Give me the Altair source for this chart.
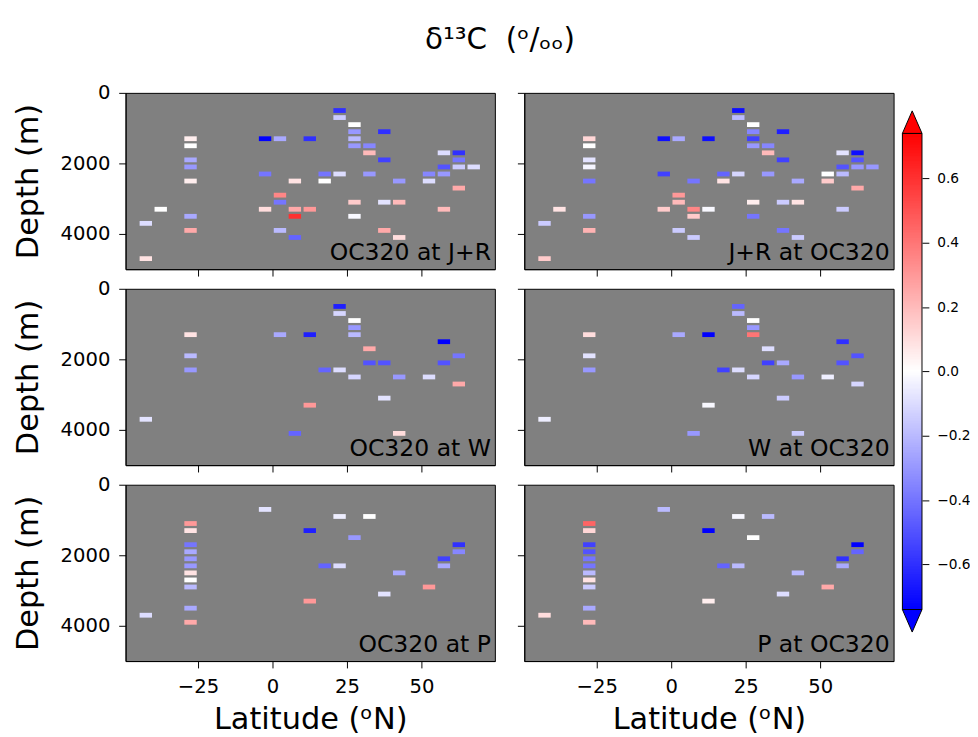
import altair as alt
import pandas as pd

FONT = "DejaVu Sans"
VMAX = 0.74

# ---------------- data (latitude in degN, depth in m, delta13C in permil) ----------------
# Panel A: OC320 at J+R
LAT_A = [22.5, 22.5, 27.5, 27.5, 37.5, -27.5, -2.5, 2.5, 12.5, 27.5, -27.5, 27.5, 32.5, 32.5,
         57.5, 62.5, -27.5, 37.5, 62.5, -27.5, 57.5, 62.5, 67.5, -2.5, 17.5, 22.5, 32.5, 52.5,
         57.5, -27.5, 7.5, 17.5, 42.5, 52.5, 62.5, 2.5, 2.5, 27.5, 37.5, 42.5, -37.5, -2.5, 7.5,
         12.5, 57.5, -27.5, 7.5, 27.5, -42.5, -27.5, 2.5, 37.5, 7.5, 42.5, -42.5]
DEP_A = [500, 700, 900, 1100, 1100, 1300, 1300, 1300, 1300, 1300, 1500, 1500, 1500, 1700,
         1700, 1700, 1900, 1900, 1900, 2100, 2100, 2100, 2100, 2300, 2300, 2300, 2300, 2300,
         2300, 2500, 2500, 2500, 2500, 2500, 2700, 2900, 3100, 3100, 3100, 3100, 3300, 3300, 3300,
         3300, 3300, 3500, 3500, 3500, 3700, 3900, 3900, 3900, 4100, 4100, 4700]
VAL_A = [-0.6, -0.15, 0.0, -0.3, -0.6, 0.05, -0.75, -0.25, -0.6, -0.2, 0.0, -0.3, -0.35, 0.2,
         -0.1, -0.6, -0.25, -0.55, -0.4, -0.3, -0.5, -0.15, -0.1, -0.4, -0.4, -0.1, -0.3, -0.35,
         -0.3, 0.05, 0.08, 0.0, -0.3, -0.1, 0.25, 0.35, -0.4, 0.15, -0.08, 0.2, 0.0, 0.1, 0.25,
         0.3, 0.2, -0.25, 0.6, -0.02, -0.1, 0.25, -0.2, 0.25, -0.45, 0.1, 0.08]

# Panel B: J+R at OC320
LAT_B = [22.5, 22.5, 27.5, 27.5, 37.5, -27.5, -2.5, 2.5, 12.5, 27.5, -27.5, 27.5, 32.5, 32.5,
         57.5, 62.5, -27.5, 37.5, 62.5, -27.5, 57.5, 62.5, 67.5, -2.5, 17.5, 22.5, 32.5, 52.5,
         57.5, -27.5, 7.5, 17.5, 42.5, 52.5, 62.5, 2.5, 2.5, 27.5, 37.5, 42.5, -37.5, -2.5, 7.5,
         12.5, 57.5, -27.5, 7.5, 27.5, -42.5, -27.5, 2.5, 37.5, 7.5, 42.5, -42.5]
DEP_B = DEP_A
VAL_B = [-0.7, -0.2, 0.0, -0.35, -0.65, 0.12, -0.7, -0.25, -0.7, -0.55, 0.0, -0.3, -0.35, 0.2,
         -0.08, -0.7, -0.08, -0.55, -0.5, -0.03, -0.5, -0.3, -0.3, -0.55, -0.45, -0.12, -0.3, 0.0,
         -0.2, -0.4, -0.4, 0.08, -0.25, 0.15, 0.25, 0.3, 0.2, 0.05, -0.15, 0.08, 0.08, 0.15, 0.35,
         -0.02, -0.15, -0.3, 0.15, -0.4, -0.15, 0.22, -0.15, -0.4, -0.15, -0.15, 0.15]

# Panel C: OC320 at W
LAT_C = [22.5, 22.5, 27.5, 27.5, -27.5, 2.5, 12.5, 27.5, 57.5, 32.5, -27.5, 62.5, 32.5, 37.5,
         57.5, -27.5, 17.5, 22.5, 27.5, 42.5, 52.5, 62.5, 37.5, 12.5, -42.5, 7.5, 42.5]
DEP_C = [500, 700, 900, 1100, 1300, 1300, 1300, 1300, 1500, 1700, 1900, 1900, 2100, 2100,
         2100, 2300, 2300, 2300, 2500, 2500, 2500, 2700, 3100, 3300, 3700, 4100, 4100]
VAL_C = [-0.65, -0.12, 0.0, -0.3, 0.08, -0.25, -0.65, -0.2, -0.75, 0.25, -0.2, -0.4, -0.5, -0.5,
         -0.5, -0.3, -0.45, -0.1, -0.12, -0.3, -0.1, 0.25, -0.08, 0.3, -0.08, -0.45, 0.1]

# Panel D: W at OC320
LAT_D = LAT_C
DEP_D = DEP_C
VAL_D = [-0.45, -0.2, 0.0, -0.3, 0.1, -0.25, -0.75, 0.4, -0.6, -0.1, -0.08, -0.5, -0.55, -0.25,
         -0.5, -0.3, -0.55, -0.1, -0.12, -0.3, -0.05, -0.12, -0.15, -0.02, -0.05, -0.3, -0.15]

# Panel E: OC320 at P
LAT_E = [-2.5, 22.5, 32.5, -27.5, -27.5, 12.5, 27.5, -27.5, 62.5, -27.5, 62.5, -27.5, 57.5,
         -27.5, 17.5, 22.5, 57.5, -27.5, 42.5, -27.5, -27.5, 52.5, 37.5, 12.5, -27.5, -42.5, -27.5]
DEP_E = [700, 900, 900, 1100, 1300, 1300, 1500, 1700, 1700, 1900, 1900, 2100, 2100,
         2300, 2300, 2300, 2300, 2500, 2500, 2700, 2900, 2900, 3100, 3300, 3500, 3700, 3900]
VAL_E = [-0.08, -0.05, 0.0, 0.3, 0.08, -0.65, -0.3, -0.4, -0.6, -0.25, -0.35, -0.3, -0.55,
         -0.3, -0.45, -0.1, -0.25, 0.08, -0.25, 0.0, -0.2, 0.3, -0.08, 0.3, -0.25, -0.1, 0.25]

# Panel F: P at OC320
LAT_F = LAT_E
DEP_F = DEP_E
VAL_F = [-0.2, -0.02, -0.2, 0.45, 0.12, -0.75, 0.0, -0.55, -0.75, -0.5, -0.45, -0.4, -0.6,
         -0.4, -0.45, -0.2, -0.25, -0.2, -0.2, 0.08, -0.15, 0.25, -0.1, 0.05, -0.25, 0.1, 0.2]

NAMES = ["OC320 at J+R", "J+R at OC320", "OC320 at W", "W at OC320", "OC320 at P", "P at OC320"]
PANELS = [(LAT_A, DEP_A, VAL_A), (LAT_B, DEP_B, VAL_B), (LAT_C, DEP_C, VAL_C),
          (LAT_D, DEP_D, VAL_D), (LAT_E, DEP_E, VAL_E), (LAT_F, DEP_F, VAL_F)]

X_TICKS = [-25, 0, 25, 50]
Y_TICKS = [0, 2000, 4000]
CB_TICKS = [-0.6, -0.4, -0.2, 0.0, 0.2, 0.4, 0.6]

# ---------------- layout / style ----------------
W, H = 377, 180
TICK = 7
HALF_W, HALF_H = 2.08, 68
X_DOMAIN = [-49.3, 74.6]
Y_DOMAIN = [0, 5000]

color_scale = alt.Scale(domain=[-VMAX, 0, VMAX], range=["#0000ff", "#ffffff", "#ff0000"],
                        interpolate="rgb", clamp=True)


def axis_opts(show, title, title_pad):
    opts = dict(grid=False, tickSize=TICK, tickColor="black", domainColor="black",
                labelFontSize=20, labelColor="black", labels=show,
                titleFontSize=31, titleFontWeight="normal", titleColor="black")
    if show:
        opts.update(title=title, labelPadding=9, titlePadding=title_pad)
    else:
        opts.update(title="", labelPadding=0, titlePadding=0)
    return opts


def make_panel(name, lat, dep, val, bottom, left):
    df = pd.DataFrame({"lat": lat, "depth": dep, "d13c": val})
    xa = axis_opts(bottom, "Latitude (ᵒN)", 9)
    ya = axis_opts(left, "Depth (m)", 16)
    rects = alt.Chart(df).transform_calculate(
        x1=f"datum.lat - {HALF_W}", x2=f"datum.lat + {HALF_W}",
        y1=f"datum.depth - {HALF_H}", y2=f"datum.depth + {HALF_H}",
    ).mark_rect().encode(
        x=alt.X("x1:Q", scale=alt.Scale(domain=X_DOMAIN, nice=False, zero=False),
                axis=alt.Axis(values=X_TICKS, **xa)),
        x2="x2:Q",
        y=alt.Y("y1:Q", scale=alt.Scale(domain=Y_DOMAIN, reverse=True, nice=False),
                axis=alt.Axis(values=Y_TICKS, format="d", **ya)),
        y2="y2:Q",
        color=alt.Color("d13c:Q", scale=color_scale, legend=None),
    )
    label = alt.Chart(pd.DataFrame({"t": [name]})).mark_text(
        align="right", baseline="alphabetic", fontSize=24, font=FONT, color="black"
    ).encode(text="t:N", x=alt.value(W - 4), y=alt.value(H - 9))
    return alt.layer(rects, label).properties(
        width=W, height=H,
        view=alt.ViewBackground(fill="#808080", stroke="black", strokeWidth=1),
    )


charts = []
for i, (name, (lat, dep, val)) in enumerate(zip(NAMES, PANELS)):
    charts.append(make_panel(name, lat, dep, val, bottom=(i >= 4), left=(i % 2 == 0)))

COL_GAP, ROW_GAP = 21, 18
rows = [alt.hconcat(charts[2 * r], charts[2 * r + 1], spacing=COL_GAP) for r in range(3)]
grid = alt.vconcat(*rows, spacing=1)

# ---------------- colorbar ----------------
CB_H = 3 * H + 2 * ROW_GAP
CB_W = 20
CB_DOMAIN = [-0.888, 0.866]
STEP = 0.005
TRI = 0.070  # triangle height in data units
cb_scale = alt.Scale(domain=CB_DOMAIN, nice=False, zero=False)

stripes = alt.Chart(alt.sequence(start=-VMAX, stop=VMAX, step=STEP, as_="v")).transform_calculate(
    v2=f"min(datum.v + {2 * STEP}, {VMAX})"
).mark_rect().encode(
    y=alt.Y("v:Q", scale=cb_scale,
            axis=alt.Axis(orient="right", values=CB_TICKS, format=".1f", grid=False, domain=False,
                          tickSize=7, tickColor="black", labelFontSize=14, labelColor="black",
                          labelPadding=8, title="")),
    y2="v2:Q",
    x=alt.value(0), x2=alt.value(CB_W),
    color=alt.Color("v:Q", scale=color_scale, legend=None),
)
outline = alt.Chart(pd.DataFrame({"lo": [-VMAX], "hi": [VMAX]})).mark_rect(
    fillOpacity=0, stroke="black", strokeWidth=1
).encode(y=alt.Y("lo:Q", scale=cb_scale), y2="hi:Q", x=alt.value(0), x2=alt.value(CB_W))

tri_df = pd.DataFrame({"c": [VMAX + TRI / 2, -VMAX - TRI / 2],
                       "col": ["#ff0000", "#0000ff"],
                       "shape": ["M-0.87,1L0,-1L0.87,1Z", "M-0.87,-1L0,1L0.87,-1Z"]})
tris = alt.Chart(tri_df).mark_point(filled=True, size=529, stroke="black", strokeWidth=1, opacity=1).encode(
    y=alt.Y("c:Q", scale=cb_scale),
    x=alt.value(CB_W / 2),
    fill=alt.Fill("col:N", scale=None, legend=None),
    shape=alt.Shape("shape:N", scale=None, legend=None),
)
colorbar = alt.layer(stripes, outline, tris).properties(
    width=CB_W, height=CB_H, view=alt.ViewBackground(strokeWidth=0)
)

chart = alt.hconcat(grid, colorbar, spacing=5).properties(
    title=alt.TitleParams("δ¹³C\u00a0\u00a0(ᵒ/ₒₒ)", fontSize=30, font=FONT, fontWeight="normal",
                          anchor="middle", color="black", offset=28, dx=9),
    padding={"left": 4, "top": 10, "right": 0, "bottom": 0},
).configure(font=FONT).configure_view(strokeWidth=0)

chart.save("out.html", embed_options={"renderer": "svg", "actions": False})
